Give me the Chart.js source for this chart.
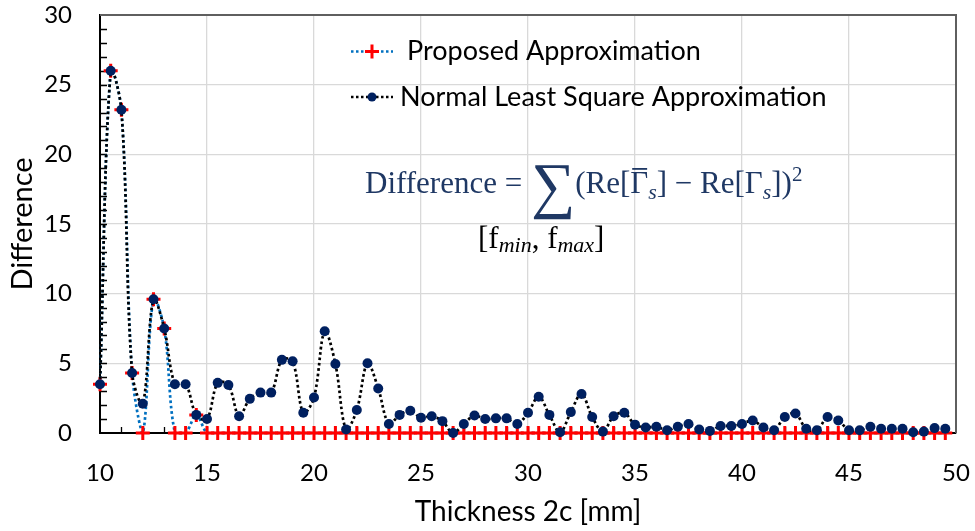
<!DOCTYPE html>
<html>
<head>
<meta charset="utf-8">
<script src="https://cdn.jsdelivr.net/npm/chart.js@4.4.1/dist/chart.umd.min.js"></script>
<style>
  html, body { margin: 0; padding: 0; background: #fff; }
  #wrap { width: 975px; height: 531px; }
</style>
</head>
<body>
<div id="wrap"><canvas id="c" width="975" height="531"></canvas></div>
<script>
// Thickness 2c [mm]
const thickness = [
  10, 10.5, 11, 11.5, 12, 12.5, 13, 13.5, 14, 14.5,
  15, 15.5, 16, 16.5, 17, 17.5, 18, 18.5, 19, 19.5,
  20, 20.5, 21, 21.5, 22, 22.5, 23, 23.5, 24, 24.5,
  25, 25.5, 26, 26.5, 27, 27.5, 28, 28.5, 29, 29.5,
  30, 30.5, 31, 31.5, 32, 32.5, 33, 33.5, 34, 34.5,
  35, 35.5, 36, 36.5, 37, 37.5, 38, 38.5, 39, 39.5,
  40, 40.5, 41, 41.5, 42, 42.5, 43, 43.5, 44, 44.5,
  45, 45.5, 46, 46.5, 47, 47.5, 48, 48.5, 49, 49.5
];

// Difference, proposed approximation
const proposed = [
  3.5, 26.0, 23.2, 4.3, 0, 9.6, 7.5, 0, 0, 1.3,
  0, 0, 0, 0, 0, 0, 0, 0, 0, 0,
  0, 0, 0, 0, 0, 0, 0, 0, 0, 0,
  0, 0, 0, 0, 0, 0, 0, 0, 0, 0,
  0, 0, 0, 0, 0, 0, 0, 0, 0, 0,
  0, 0, 0, 0, 0, 0, 0, 0, 0, 0,
  0, 0, 0, 0, 0, 0, 0, 0, 0, 0,
  0, 0, 0, 0, 0, 0, 0, 0, 0, 0
];

// Difference, normal least square approximation
const normalLS = [
  3.5, 26.0, 23.2, 4.3, 2.1, 9.6, 7.5, 3.5, 3.5, 1.3,
  1.0, 3.6, 3.45, 1.2, 2.45, 2.9, 2.9, 5.25, 5.15, 1.45,
  2.55, 7.3, 4.95, 0.25, 1.65, 5.0, 3.2, 0.65, 1.3, 1.6,
  1.1, 1.2, 0.85, 0.0, 0.65, 1.25, 1.0, 1.05, 1.05, 0.65,
  1.45, 2.6, 1.3, 0.05, 1.5, 2.8, 1.15, 0.1, 1.2, 1.45,
  0.6, 0.4, 0.45, 0.2, 0.45, 0.65, 0.25, 0.15, 0.5, 0.5,
  0.65, 0.9, 0.4, 0.2, 1.15, 1.4, 0.3, 0.2, 1.15, 0.9,
  0.2, 0.2, 0.45, 0.3, 0.3, 0.3, 0.05, 0.1, 0.35, 0.3
];

const seriesNames = ['Proposed Approximation', 'Normal Least Square Approximation'];
const xTitle = 'Thickness 2c [mm]';
const yTitle = 'Difference';

const FONT = 'Lato';
const NAVY = '#002060';
const EQ_NAVY = '#1F3864';

const pts = (vals) => thickness.map((t, i) => ({ x: t, y: vals[i] }));

// Inward minor tick marks plus the grey top/right frame
const frame = {
  id: 'frame',
  beforeDatasetsDraw(chart) {
    const { ctx, chartArea: a, scales: { x, y } } = chart;
    ctx.save();
    ctx.strokeStyle = '#000';
    ctx.lineWidth = 1.3;
    ctx.beginPath();
    for (let v = x.min + 1; v < x.max; v += 1) {
      const px = Math.round(x.getPixelForValue(v)) + 0.5;
      ctx.moveTo(px, a.bottom);
      ctx.lineTo(px, a.bottom - 6);
    }
    for (let v = y.min + 1; v < y.max; v += 1) {
      const py = Math.round(y.getPixelForValue(v)) + 0.5;
      ctx.moveTo(a.left, py);
      ctx.lineTo(a.left + 7, py);
    }
    ctx.stroke();
    ctx.strokeStyle = '#5f5f5f';
    ctx.lineWidth = 2;
    ctx.beginPath();
    ctx.moveTo(a.left, a.top);
    ctx.lineTo(a.right, a.top);
    ctx.lineTo(a.right, a.bottom);
    ctx.stroke();
    ctx.restore();
  }
};

// Legend and the formula annotation
const overlay = {
  id: 'overlay',
  afterDraw(chart) {
    const { ctx } = chart;
    ctx.save();
    // legend
    ctx.lineWidth = 2.5;
    ctx.setLineDash([2.5, 2.5]);
    ctx.strokeStyle = '#0070C0';
    ctx.beginPath(); ctx.moveTo(351, 51.5); ctx.lineTo(393, 51.5); ctx.stroke();
    ctx.strokeStyle = '#000';
    ctx.beginPath(); ctx.moveTo(351, 97); ctx.lineTo(393, 97); ctx.stroke();
    ctx.setLineDash([]);
    ctx.strokeStyle = '#FF0000';
    ctx.lineWidth = 3;
    ctx.beginPath();
    ctx.moveTo(365, 51.5); ctx.lineTo(379, 51.5);
    ctx.moveTo(372, 44.5); ctx.lineTo(372, 58.5);
    ctx.stroke();
    ctx.fillStyle = NAVY;
    ctx.beginPath(); ctx.arc(372, 97, 4.5, 0, Math.PI * 2); ctx.fill();
    ctx.fillStyle = '#000';
    ctx.font = `27px ${FONT}`;
    ctx.textBaseline = 'middle';
    ctx.fillText(seriesNames[0], 407, 51.5);
    ctx.fillText(seriesNames[1], 400, 97);

    // formula
    ctx.textBaseline = 'alphabetic';
    const serif = '"Liberation Serif"';
    const base = 193;
    let x = 365;
    const put = (t, font, dy = 0, color = EQ_NAVY) => {
      ctx.font = font; ctx.fillStyle = color;
      ctx.fillText(t, x, base + dy);
      const w = ctx.measureText(t).width;
      x += w;
      return w;
    };
    const R = `31px ${serif}`, It = `italic 22px ${serif}`, Sup = `21px ${serif}`;
    put('Difference = ', R);
    x += 1;
    put('\u2211', `62px ${serif}`, 13);
    put('(Re[', R);
    const gx = x;
    const gw = put('\u0393', R);
    ctx.fillStyle = EQ_NAVY;
    ctx.fillRect(gx + 2, base - 25, gw - 3, 1.8);
    put('s', It, 6);
    put('] \u2212 Re[', R);
    put('\u0393', R);
    put('s', It, 6);
    put('])', R);
    put('2', Sup, -12);

    x = 478;
    const b2 = 55;
    put('[f', R, b2, '#000');
    put('min', It, b2 + 4, '#000');
    put(', f', R, b2, '#000');
    put('max', It, b2 + 4, '#000');
    put(']', R, b2, '#000');
    ctx.restore();
  }
};

new Chart(document.getElementById('c'), {
  type: 'line',
  data: {
    datasets: [
      {
        label: seriesNames[1],
        data: pts(normalLS),
        borderColor: '#000',
        borderWidth: 2.7,
        borderDash: [2.7, 2.7],
        tension: 0.35,
        pointStyle: 'circle',
        pointRadius: 5,
        pointBackgroundColor: NAVY,
        pointBorderColor: NAVY,
        pointBorderWidth: 0,
        clip: false,
        order: 0
      },
      {
        label: seriesNames[0],
        data: pts(proposed),
        borderColor: '#0070C0',
        borderWidth: 2.7,
        borderDash: [2.7, 2.7],
        tension: 0.35,
        pointStyle: 'cross',
        pointRadius: 7,
        pointBorderColor: '#FF0000',
        pointBorderWidth: 3,
        clip: false,
        order: 1
      }
    ]
  },
  options: {
    responsive: false,
    animation: false,
    layout: { padding: { top: 15, right: 19, left: 0, bottom: 0 } },
    plugins: { legend: { display: false }, tooltip: { enabled: false } },
    scales: {
      x: {
        type: 'linear',
        min: 10, max: 50,
        afterFit(s) { s.height = 98; s.paddingLeft = 0; s.paddingRight = 0; },
        ticks: { stepSize: 5, color: '#000', font: { family: FONT, size: 24 }, padding: 26, maxRotation: 0, autoSkip: false },
        grid: { color: (c) => (c.tick && (c.tick.value === 10 || c.tick.value === 50)) ? 'rgba(0,0,0,0)' : '#D9D9D9', lineWidth: 1.3, drawTicks: false },
        border: { color: '#000', width: 2 },
        title: { display: true, text: xTitle, color: '#000', font: { family: FONT, size: 28 }, padding: { top: 0, bottom: 2 } }
      },
      y: {
        min: 0, max: 30,
        afterFit(s) { s.width = 100; s.paddingTop = 0; s.paddingBottom = 0; },
        ticks: { stepSize: 5, color: '#000', font: { family: FONT, size: 24 }, padding: 28 },
        grid: { color: (c) => (c.tick && (c.tick.value === 0 || c.tick.value === 30)) ? 'rgba(0,0,0,0)' : '#D9D9D9', lineWidth: 1.3, drawTicks: false },
        border: { color: '#000', width: 2 },
        title: { display: true, text: yTitle, color: '#000', font: { family: FONT, size: 29 }, padding: { top: 5, bottom: 0 } }
      }
    }
  },
  plugins: [frame, overlay]
});
</script>
</body>
</html>
